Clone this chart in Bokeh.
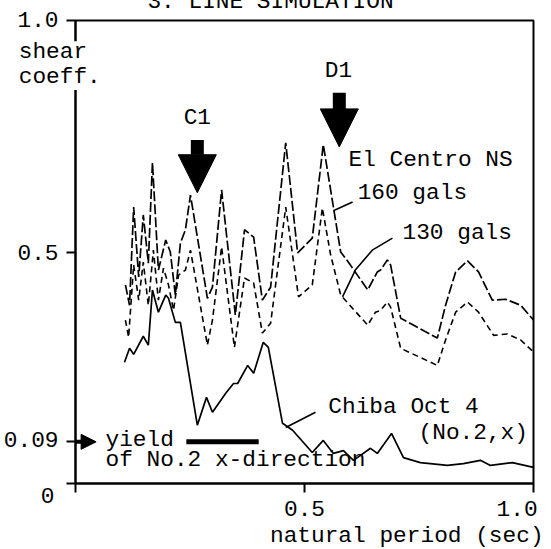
from bokeh.plotting import figure
from bokeh.models import Range1d, FixedTicker, Arrow, NormalHead
from bokeh.core.properties import value
from bokeh.embed import file_html
from bokeh.resources import INLINE

# Shear coefficient spectra against natural period (sec)
el_centro_160_period = [0.109, 0.118, 0.127, 0.138, 0.148, 0.159, 0.168, 0.181, 0.197, 0.207,
                        0.218, 0.229, 0.240, 0.251, 0.288, 0.299, 0.319, 0.349, 0.369, 0.389,
                        0.408, 0.426, 0.459, 0.485, 0.517, 0.541, 0.579, 0.596, 0.638, 0.659,
                        0.666, 0.681, 0.688, 0.710, 0.790, 0.808, 0.830, 0.856, 0.880, 0.910,
                        0.939, 0.972, 1.000]
el_centro_160_coeff = [0.429, 0.385, 0.597, 0.446, 0.580, 0.476, 0.693, 0.461, 0.526, 0.500,
                       0.407, 0.519, 0.548, 0.623, 0.400, 0.424, 0.634, 0.364, 0.548, 0.532,
                       0.396, 0.424, 0.736, 0.498, 0.530, 0.732, 0.500, 0.478, 0.418, 0.457,
                       0.461, 0.483, 0.472, 0.357, 0.314, 0.385, 0.457, 0.481, 0.457, 0.396,
                       0.398, 0.385, 0.353]

el_centro_130_period = [0.109, 0.116, 0.127, 0.138, 0.148, 0.159, 0.170, 0.181, 0.192, 0.203,
                        0.214, 0.225, 0.240, 0.251, 0.288, 0.299, 0.319, 0.347, 0.369, 0.389,
                        0.408, 0.426, 0.459, 0.487, 0.517, 0.539, 0.557, 0.579, 0.638, 0.655,
                        0.666, 0.681, 0.688, 0.710, 0.790, 0.808, 0.830, 0.856, 0.880, 0.913,
                        0.943, 0.972, 1.000]
el_centro_130_coeff = [0.353, 0.316, 0.472, 0.396, 0.478, 0.385, 0.504, 0.396, 0.465, 0.429,
                       0.374, 0.450, 0.461, 0.504, 0.299, 0.353, 0.511, 0.294, 0.444, 0.433,
                       0.325, 0.346, 0.597, 0.403, 0.429, 0.595, 0.494, 0.407, 0.342, 0.370,
                       0.374, 0.392, 0.381, 0.292, 0.255, 0.310, 0.370, 0.392, 0.370, 0.320,
                       0.323, 0.310, 0.284]

chiba_period = [0.107, 0.118, 0.127, 0.148, 0.159, 0.168, 0.181, 0.197, 0.203, 0.218,
                0.229, 0.266, 0.286, 0.299, 0.328, 0.345, 0.354, 0.376, 0.389, 0.410,
                0.421, 0.452, 0.474, 0.517, 0.541, 0.563, 0.585, 0.607, 0.644, 0.659,
                0.690, 0.716, 0.753, 0.812, 0.847, 0.884, 0.906, 0.954, 1.000]
chiba_coeff = [0.262, 0.292, 0.279, 0.318, 0.299, 0.418, 0.370, 0.407, 0.400, 0.348,
               0.348, 0.126, 0.186, 0.154, 0.195, 0.216, 0.216, 0.255, 0.238, 0.305,
               0.294, 0.130, 0.115, 0.067, 0.093, 0.065, 0.071, 0.050, 0.076, 0.065,
               0.108, 0.056, 0.045, 0.039, 0.043, 0.050, 0.039, 0.045, 0.035]

yield_coeff = 0.09
yield_bar_period = [0.242, 0.400]
c1_period = 0.266
d1_period = 0.576

y_ticks = [0, 0.09, 0.5, 1.0]
y_tick_labels = ["0", "0.09", "0.5", "1.0"]
x_ticks = [0, 0.5, 1.0]
x_tick_labels = ["", "0.5", "1.0"]

FONT = "Liberation Mono"
FS = "22.8px"

p = figure(width=551, height=549, output_backend="svg", toolbar_location=None,
           x_range=Range1d(0, 1.0), y_range=Range1d(0, 1.0),
           min_border_left=75, min_border_right=18, min_border_top=20, min_border_bottom=66)
p.background_fill_color = "white"
p.border_fill_color = "white"
p.grid.visible = False
p.outline_line_color = "black"
p.outline_line_width = 2

for ax, ticks in ((p.xaxis[0], x_ticks), (p.yaxis[0], y_ticks)):
    ax.ticker = FixedTicker(ticks=ticks)
    ax.major_label_text_alpha = 0
    ax.major_label_text_font_size = "10px"
    ax.major_tick_in = 0
    ax.major_tick_out = 9
    ax.major_tick_line_width = 2
    ax.minor_tick_line_color = None
    ax.axis_line_width = 2
    ax.axis_line_color = "black"
    ax.major_label_standoff = 0

# spectra
p.line(el_centro_160_period, el_centro_160_coeff, line_color="black", line_width=1.7, line_dash="10 3")
p.line(el_centro_130_period, el_centro_130_coeff, line_color="black", line_width=1.6, line_dash="6 4")
p.line(chiba_period, chiba_coeff, line_color="black", line_width=1.7)

# yield level marker
p.line(yield_bar_period, [yield_coeff, yield_coeff], line_color="black", line_width=5)
p.add_layout(Arrow(end=NormalHead(size=15, fill_color="black", line_color="black"),
                   x_start=-0.02, y_start=yield_coeff, x_end=0.045, y_end=yield_coeff,
                   line_color="black", line_width=4))

# C1 / D1 arrows
p.add_layout(Arrow(end=NormalHead(size=38, fill_color="black", line_color="black"),
                   x_start=c1_period, y_start=0.742, x_end=c1_period, y_end=0.628,
                   line_color="black", line_width=13))
p.add_layout(Arrow(end=NormalHead(size=38, fill_color="black", line_color="black"),
                   x_start=d1_period, y_start=0.844, x_end=d1_period, y_end=0.727,
                   line_color="black", line_width=13))

# leader lines
p.line([0.605, 0.563], [0.608, 0.589], line_color="black", line_width=1.6)
p.line([0.692, 0.648, 0.611, 0.583], [0.530, 0.504, 0.461, 0.403], line_color="black", line_width=1.6)
p.line([0.524, 0.459], [0.154, 0.121], line_color="black", line_width=1.6)


def label(x, y, text, align="left", baseline="middle"):
    # drawn at overlay level so texts in the margins are not clipped to the frame
    p.text(x=[x], y=[y], text=[text], text_font=value(FONT), text_font_size=FS,
           text_color="black", text_align=align, text_baseline=baseline, level="overlay")


# tick labels
tick_label_pos = {"0": (-0.061, -0.026, "center"), "0.09": (-0.037, 0.095, "right"),
                  "0.5": (-0.037, 0.5, "right"), "1.0": (-0.037, 1.002, "right")}
for s in y_tick_labels:
    tx, ty, al = tick_label_pos[s]
    label(tx, ty, s, align=al)
label(0.5, -0.054, x_tick_labels[1], align="center")
label(1.009, -0.054, x_tick_labels[2], align="right")

# axis titles; a white patch breaks the vertical axis behind them
p.quad(left=[-0.13], right=[0.05], bottom=[0.85], top=[0.955],
       fill_color="white", line_color=None, level="annotation")
label(-0.124, 0.933, "shear")
label(-0.124, 0.877, "coeff.")
label(1.022, -0.113, "natural period (sec)", align="right")
label(0.157, 1.041, "3. LINE SIMULATION", baseline="alphabetic")

# annotations
label(0.266, 0.790, "C1", align="center")
label(0.574, 0.892, "D1", align="center")
label(0.596, 0.699, "El Centro NS")
label(0.616, 0.628, "160 gals")
label(0.714, 0.541, "130 gals")
label(0.552, 0.165, "Chiba Oct 4")
label(0.749, 0.108, "(No.2,x)")
label(0.0655, 0.095, "yield")
label(0.0655, 0.050, "of No.2 x-direction")

open("out.html", "w").write(file_html(p, INLINE))
